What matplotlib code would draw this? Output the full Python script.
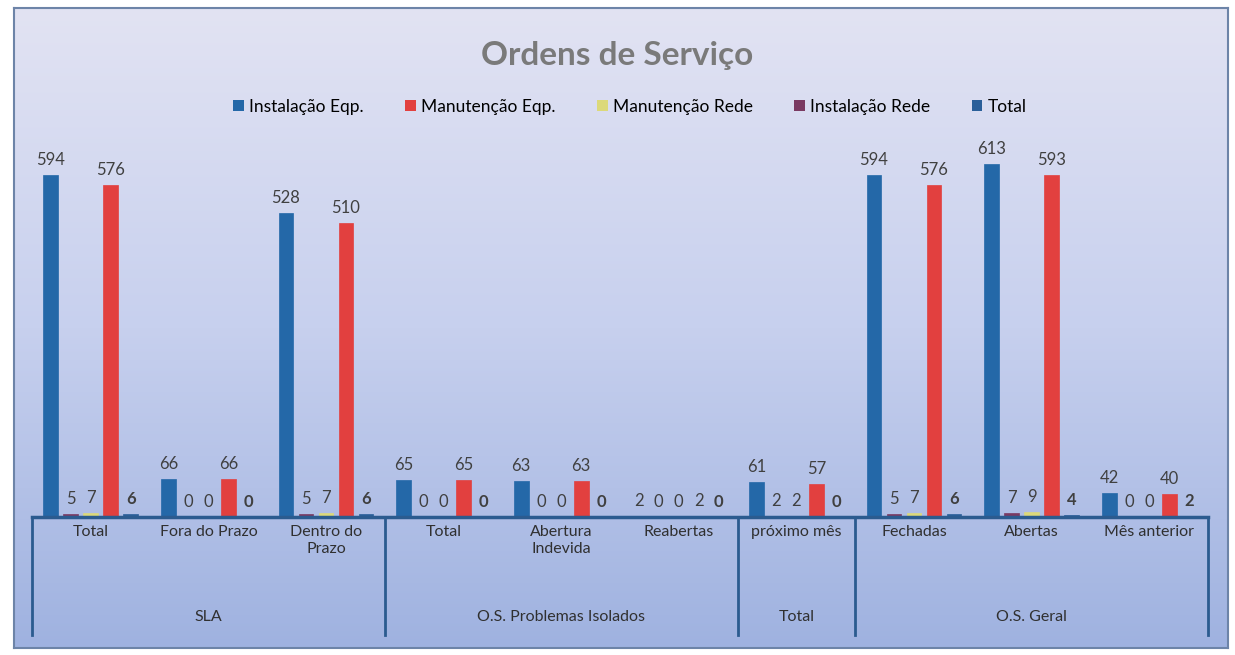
import numpy as np
import matplotlib
matplotlib.use("Agg")
from matplotlib import pyplot as plt
from matplotlib.patches import Patch
from matplotlib.colors import LinearSegmentedColormap

plt.rcParams['font.family'] = ['Lato', 'DejaVu Sans']

categories = ['Total', 'Fora do Prazo', 'Dentro do\nPrazo',
              'Total', 'Abertura\nIndevida', 'Reabertas',
              'próximo mês',
              'Fechadas', 'Abertas', 'Mês anterior']
groups = ['SLA', 'O.S. Problemas Isolados', 'Total', 'O.S. Geral']
group_sizes = [3, 3, 1, 3]

inst_eqp = [594, 66, 528, 65, 63, 2, 61, 594, 613, 42]
inst_rede = [5, 0, 5, 0, 0, 0, 2, 5, 7, 0]
manut_rede = [7, 0, 7, 0, 0, 0, 2, 7, 9, 0]
manut_eqp = [576, 66, 510, 65, 63, 2, 57, 576, 593, 40]
total = [6, 0, 6, 0, 0, 0, 0, 6, 4, 2]

# drawing order left->right inside each category
series = [
    ('Instalação Eqp.', inst_eqp, '#2468a8', False),
    ('Instalação Rede', inst_rede, '#7a3a62', False),
    ('Manutenção Rede', manut_rede, '#dcd97a', False),
    ('Manutenção Eqp.', manut_eqp, '#e2403f', False),
    ('Total', total, '#2a5f99', True),
]
legend_order = [0, 3, 2, 1, 4]

fig = plt.figure(figsize=(12.35, 6.55), dpi=100)
fig.patch.set_facecolor('white')

# background gradient panel
bg = fig.add_axes([14/1235, 1 - 648/655, 1214/1235, 640/655])
grad = np.linspace(0, 1, 256).reshape(-1, 1)
cmap = LinearSegmentedColormap.from_list('bg', ['#9fb2e0', '#c7d0ee', '#e2e3f3'])
bg.imshow(grad, aspect='auto', cmap=cmap, origin='lower', extent=[0, 1, 0, 1])
bg.set_xlim(0, 1)
bg.set_ylim(0, 1)
bg.set_xticks([])
bg.set_yticks([])
for s in bg.spines.values():
    s.set_color('#6d84a8')
    s.set_linewidth(1.5)

ax = fig.add_axes([32/1235, 1 - 517/655, 1176/1235, 392/655])
ax.set_facecolor('none')
ymax = 680
ax.set_xlim(-0.5, len(categories) - 0.5)
ax.set_ylim(0, ymax)
ax.set_xticks([])
ax.set_yticks([])
for s in ax.spines.values():
    s.set_visible(False)

x = np.arange(len(categories))
slot = 0.17
bw = 0.125
for i, (name, vals, col, bold) in enumerate(series):
    pos = x + (i - 2) * slot
    ax.bar(pos, vals, width=bw, color=col, edgecolor=col, linewidth=0.5, zorder=3)
    for p, v in zip(pos, vals):
        ax.text(p, v + 12, str(v), ha='center', va='bottom', fontsize=12,
                color='#404040', fontweight='bold' if bold else 'normal', zorder=4)

# category table below axis
px = ymax / 392
lc = '#2b5b8f'
ax.plot([-0.5, 9.5], [0, 0], color=lc, lw=2.5, clip_on=False, zorder=5)
for b in [-0.5, 2.5, 5.5, 6.5, 9.5]:
    ax.plot([b, b], [0, -118 * px], color=lc, lw=2, clip_on=False, zorder=5)
for xi, lab in zip(x, categories):
    ax.text(xi, -8 * px, lab, ha='center', va='top', fontsize=11.5, color='#303030',
            linespacing=1.3)
start = 0
for g, n in zip(groups, group_sizes):
    ax.text(start + (n - 1) / 2, -100 * px, g, ha='center', va='center',
            fontsize=11.5, color='#303030')
    start += n

fig.text(0.5, 1 - 55 / 655, 'Ordens de Serviço', ha='center', va='center',
         fontsize=24, fontweight='bold', color='#7a7a7a')

handles = [Patch(facecolor=series[k][2], label=series[k][0]) for k in legend_order]
fig.legend(handles=handles, loc='center', bbox_to_anchor=(630 / 1235, 1 - 107 / 655),
           ncol=5, frameon=False, fontsize=12.5, handlelength=0.6, handleheight=0.6,
           handletextpad=0.3, columnspacing=2.4)

fig.savefig('out.png', dpi=100, facecolor='white')
